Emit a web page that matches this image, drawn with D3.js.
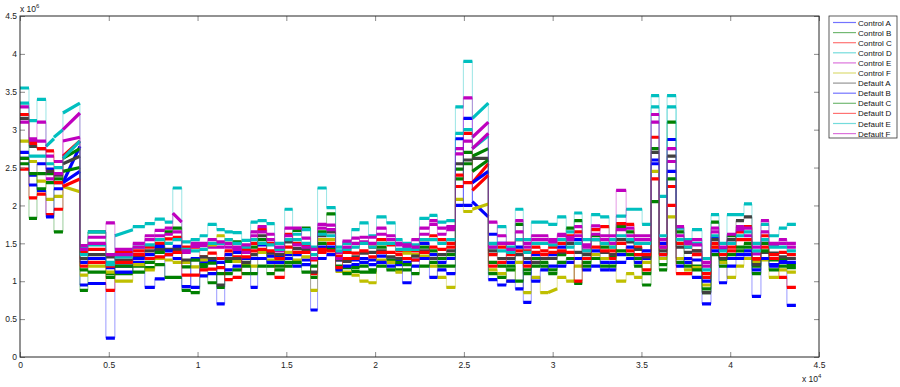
<!DOCTYPE html>
<html>
<head>
<meta charset="utf-8">
<script src="https://cdn.jsdelivr.net/npm/d3@7"></script>
<style>
  body { margin: 0; background: #fff; }
  svg { display: block; font-family: 'Liberation Sans', Arial, sans-serif; }
</style>
</head>
<body>
<svg id="chart"></svg>
<script>
// sample index where each recorded run starts / ends (x axis, raw samples)
const sampleBreaks = [0, 506, 956, 1462, 1912, 2418, 3374, 3824, 4837, 5343,
  6355, 7030, 7592, 8155, 8605, 9111, 9617, 10123, 10573, 11079,
  11529, 11979, 12485, 12991, 13385, 13891, 14341, 14904, 15354, 15860,
  16366, 16760, 17266, 17772, 18165, 18672, 19122, 19628, 20078, 20640,
  21146, 21540, 22046, 22496, 23058, 23508, 24014, 24521, 24971, 25477,
  26377, 26883, 27389, 27895, 28345, 28795, 29301, 29751, 30257, 30763,
  31213, 31663, 32169, 32675, 33182, 33575, 34138, 34588, 35038, 35544,
  35994, 36444, 36950, 37400, 37850, 38412, 38918, 39368, 39818, 40324,
  40774, 41224, 41730, 42180, 42742, 43192, 43698];

// level of each run in units of 1e6 ([start, end] when the run drifts)
const controlA = [2.62, 2.4, 2.55, 2.48, 2.3, [2.3, 2.78], 0.95, 0.97, 0.25, 1.2,
  1.25, 0.92, 1.03, 1.35, 1.46, 1.27, 0.92, 1.25, 1.26, 0.7,
  1.35, 1.38, 1.4, 0.92, 1.48, 1.33, 1.32, 1.35, 1.35, 1.28,
  0.62, 1.45, 1.45, 1.28, 1.28, 1.28, 1.25, 1.28, 1.33, 1.28,
  1.28, 1.25, 1.28, 1.5, 1.35, 1.25, 1.3, 2.0, 3.15, [2.05, 1.85],
  1.62, 1.5, 1.25, 1.45, 0.72, 1.35, 1.3, 1.35, 1.45, 1.55,
  1.55, 1.3, 1.4, 1.25, 1.15, 1.35, 1.45, 1.35, 1.3, 2.6,
  1.5, 2.87, 1.3, 1.25, 1.05, 0.7, 1.58, 1.3, 1.3, 1.35,
  1.35, 0.8, 1.5, 1.2, 1.28, 0.68];
const controlB = [2.55, 1.83, 2.42, 2.42, 1.65, [2.45, 2.5], 0.88, 1.65, 1.1, 1.1,
  1.2, 1.18, 1.22, 1.05, 1.05, 0.88, 0.85, 1.19, 1.24, 0.92,
  1.26, 1.52, 1.1, 1.45, 1.55, 1.2, 1.2, 1.2, 1.67, 1.7,
  1.05, 1.65, 1.89, 1.38, 1.18, 1.13, 1.12, 1.12, 1.45, 1.28,
  1.15, 1.15, 1.35, 1.45, 1.4, 1.3, 1.35, 2.48, 2.55, [2.65, 2.75],
  1.25, 1.2, 1.15, 1.75, 1.1, 1.3, 1.2, 1.15, 1.35, 1.7,
  1.8, 1.2, 1.6, 1.45, 1.32, 1.72, 1.65, 1.3, 0.95, 2.75,
  1.22, 3.1, 1.65, 1.3, 1.2, 0.85, 1.78, 1.28, 1.6, 1.45,
  1.5, 1.2, 1.5, 1.28, 1.3, 1.22];
const controlC = [2.48, 2.1, 2.15, 1.88, 1.95, [2.65, 2.85], 1.38, 1.42, 0.88, 1.38,
  1.4, 1.45, 1.5, 1.56, 1.58, 1.45, 1.45, 1.32, 1.37, 1.3,
  1.4, 1.32, 1.42, 1.5, 1.68, 1.5, 1.05, 1.62, 1.5, 1.48,
  1.1, 1.38, 1.5, 1.33, 1.38, 1.37, 1.5, 1.45, 1.55, 1.48,
  1.4, 1.4, 1.4, 1.55, 1.6, 1.55, 1.5, 2.25, 2.95, [2.3, 2.55],
  1.35, 1.45, 1.5, 1.55, 1.4, 1.45, 1.4, 1.45, 1.5, 1.6,
  1.65, 1.4, 1.68, 1.72, 1.4, 1.76, 1.75, 1.45, 1.15, 2.9,
  1.45, 2.25, 1.5, 1.45, 1.4, 1.05, 1.5, 1.3, 1.45, 1.65,
  1.72, 1.28, 1.6, 1.3, 1.05, 0.92];
const controlD = [3.55, 3.12, 3.4, [2.78, 2.88], [2.9, 3.0], [3.22, 3.35], 1.45, 1.65, 1.25, [1.6, 1.68],
  1.72, 1.76, 1.82, 1.78, 2.23, 1.52, 1.55, 1.6, 1.75, 1.68,
  1.65, 1.64, 1.54, 1.78, 1.8, 1.76, 1.5, 1.95, 1.62, 1.68,
  1.45, 2.23, 1.97, 1.45, 1.5, 1.68, 1.77, 1.6, 1.85, 1.77,
  1.55, 1.5, 1.48, 1.83, 1.87, 1.78, 1.8, 3.3, 3.9, [3.15, 3.35],
  1.45, 1.72, 1.45, 1.95, 1.55, 1.78, 1.78, 1.75, 1.85, 1.65,
  1.9, 1.55, 1.88, 1.85, 1.55, 1.86, 1.95, 1.95, 1.75, 3.45,
  2.12, 3.45, 1.7, 1.55, 1.68, 1.3, 1.88, 1.5, 1.88, 1.88,
  2.02, 1.5, 1.75, 1.6, 1.7, 1.75];
const controlE = [3.3, 2.85, 3.1, 2.65, 2.58, [3.0, 3.22], 1.47, 1.58, 1.77, 1.42,
  1.5, 1.6, 1.67, 1.7, [1.9, 1.78], 1.38, 1.46, 1.47, 1.45, 1.45,
  1.5, 1.45, 1.38, 1.65, 1.72, 1.62, 1.4, 1.7, 1.7, 1.57,
  1.42, 1.75, 1.74, 1.38, 1.53, 1.57, 1.52, 1.58, 1.7, 1.55,
  1.48, 1.45, 1.55, 1.62, 1.75, 1.62, 1.68, 2.75, 3.42, [2.9, 3.1],
  1.78, 1.6, 1.5, 1.8, 1.45, 1.6, 1.6, 1.55, 1.6, 1.55,
  1.72, 1.45, 1.73, 1.6, 1.6, 2.2, 1.6, 1.6, 1.6, 3.1,
  1.55, 2.58, 1.72, 1.5, 1.55, 1.2, 1.65, 1.42, 1.55, 1.72,
  1.6, 1.36, 1.8, 1.48, 1.5, 1.45];
const controlF = [2.85, 2.58, 2.32, 2.08, 2.12, [2.25, 2.18], 1.08, 1.2, 1.12, 1.0,
  1.22, 1.15, 1.3, 1.28, 1.25, 1.25, 1.19, 1.28, 1.48, 1.6,
  1.55, 1.26, 1.22, 1.2, 1.38, 1.28, 1.28, 1.38, 1.28, 1.32,
  0.88, 1.55, 1.55, 1.13, 1.12, 1.08, 1.0, 0.98, 1.28, 1.25,
  1.12, 1.37, 1.35, 1.33, 1.2, 1.05, 0.92, 2.08, 1.92, [1.95, 2.02],
  1.15, 1.1, 1.0, 1.25, 0.85, 1.05, 0.85, [0.85, 0.9], 1.05, 1.0,
  1.2, 1.3, 1.35, 1.3, 1.45, 1.0, 1.1, 1.05, 1.25, 2.45,
  1.3, 1.85, 1.3, 1.15, 1.18, 0.95, 1.45, 1.25, 1.05, 1.2,
  1.3, 1.25, 1.28, 1.05, 1.15, 1.12];
const defaultA = [3.15, 2.78, 2.75, 2.45, 2.4, [2.55, 2.65], 1.3, 1.35, 1.32, 1.28,
  1.32, 1.4, 1.42, 1.42, 1.42, 1.28, 1.28, 1.32, 1.3, 0.95,
  1.3, 1.3, 1.25, 1.35, 1.6, 1.37, 1.35, 1.52, 1.43, 1.42,
  1.12, 1.6, 1.65, 1.28, 1.26, 1.32, 1.37, 1.38, 1.4, 1.32,
  1.3, 1.3, 1.33, 1.4, 1.3, 1.35, 1.4, 2.55, 2.6, 2.62,
  1.4, 1.3, 1.3, 1.35, 1.3, 1.25, 1.3, 1.3, 1.38, 1.5,
  1.38, 1.35, 1.55, 1.38, 1.35, 1.55, 1.52, 1.42, 1.32, 2.7,
  1.4, 2.65, 1.45, 1.38, 1.4, 0.85, 1.55, 1.3, 1.55, 1.8,
  1.85, 1.22, 1.38, 1.37, 1.32, 1.3];
const defaultB = [2.7, 2.27, 2.2, 1.85, 2.22, [2.3, 2.45], 1.25, 1.3, 1.18, 1.12,
  1.3, 1.35, 1.46, 1.4, 1.3, 0.93, 1.3, 1.07, 1.1, 1.25,
  1.15, 1.2, 1.3, 1.3, 1.3, 1.25, 1.25, 1.3, 1.2, 1.22,
  1.3, 1.3, 1.35, 1.15, 1.2, 1.22, 1.3, 1.22, 1.25, 1.2,
  1.22, 0.98, 1.2, 1.3, 1.05, 1.15, 1.1, 2.88, 2.0, [2.3, 2.45],
  1.02, 0.95, 1.0, 0.9, 1.25, 1.0, 1.15, 1.2, 1.2, 1.25,
  1.3, 1.15, 1.2, 1.15, 1.25, 1.25, 1.3, 1.25, 1.4, 2.55,
  1.35, 2.45, 1.2, 1.3, 1.28, 1.0, 1.4, 0.98, 1.2, 1.3,
  1.4, 1.15, 1.3, 1.22, 1.25, 1.25];
const defaultC = [2.62, 2.42, 2.22, 2.3, 2.35, [2.62, 2.75], 1.15, 1.12, 1.05, 1.2,
  1.12, 1.25, 1.38, 1.65, 1.7, 1.19, 1.28, 1.22, 0.98, 1.1,
  1.1, 1.15, 1.2, 1.1, 1.2, 1.1, 1.15, 1.25, 1.25, 1.12,
  1.2, 1.5, 1.42, 1.2, 1.1, 1.18, 1.2, 1.15, 1.2, 1.15,
  1.25, 1.22, 1.1, 1.2, 1.25, 1.2, 1.2, 2.35, 2.7, [2.45, 2.6],
  1.1, 1.05, 1.2, 1.0, 1.15, 1.2, 1.25, 1.1, 1.25, 1.3,
  0.97, 1.25, 1.3, 1.2, 1.2, 1.4, 1.35, 1.2, 1.1, 2.05,
  1.15, 2.35, 1.25, 1.2, 1.15, 0.9, 1.35, 1.2, 1.35, 1.4,
  1.45, 1.1, 1.4, 1.15, 1.2, 1.18];
const defaultD = [3.2, 2.82, 2.75, 2.72, 2.3, [2.25, 2.35], 1.2, 1.25, 1.2, 1.25,
  1.35, 1.3, 1.32, 1.35, 1.38, 1.08, 1.08, 1.15, 1.16, 1.18,
  1.02, 1.05, 1.32, 1.4, 1.42, 1.4, 1.3, 1.45, 1.38, 1.38,
  1.28, 1.42, 1.4, 1.18, 1.3, 1.3, 1.4, 1.32, 1.38, 1.38,
  1.35, 1.3, 1.28, 1.38, 1.45, 1.42, 1.45, 2.4, 2.3, [2.2, 2.4],
  1.2, 1.25, 1.35, 1.4, 1.2, 1.38, 1.35, 1.38, 1.4, 1.38,
  1.0, 1.3, 1.45, 1.4, 1.3, 1.5, 1.4, 1.35, 1.35, 2.35,
  1.35, 2.0, 1.1, 1.1, 1.35, 1.1, 1.45, 1.35, 1.4, 1.55,
  1.55, 1.3, 1.45, 1.35, 1.38, 1.35];
const defaultE = [3.35, 2.65, 2.65, 2.55, 2.5, [2.62, 2.85], 1.35, 1.48, 1.22, 1.32,
  1.45, 1.48, 1.55, 1.5, 1.55, 1.42, 1.4, 1.42, 1.5, 1.5,
  1.55, 1.5, 1.45, 1.55, 1.5, 1.48, 1.42, 1.55, 1.55, 1.5,
  1.35, 1.62, 1.6, 1.4, 1.42, 1.45, 1.5, 1.45, 1.5, 1.5,
  1.42, 1.42, 1.42, 1.55, 1.55, 1.5, 1.55, 2.95, 3.0, [2.75, 2.92],
  1.5, 1.4, 1.38, 1.55, 1.38, 1.5, 1.5, 1.48, 1.55, 1.45,
  1.5, 1.4, 1.55, 1.5, 1.45, 1.6, 1.55, 1.5, 1.5, 3.3,
  1.6, 3.3, 1.55, 1.45, 1.5, 1.15, 1.6, 1.4, 1.5, 1.6,
  1.65, 1.4, 1.55, 1.45, 1.45, 1.4];
const defaultF = [3.1, 2.88, 2.85, 2.35, 2.42, [2.85, 2.9], 1.42, 1.5, 1.35, 1.35,
  1.45, 1.55, 1.6, 1.62, 1.65, 1.4, 1.5, 1.5, 1.55, 1.52,
  1.45, 1.42, 1.48, 1.6, 1.65, 1.55, 1.45, 1.6, 1.48, 1.45,
  1.3, 1.7, 1.68, 1.3, 1.45, 1.5, 1.58, 1.5, 1.62, 1.6,
  1.5, 1.48, 1.45, 1.7, 1.8, 1.7, 1.72, 2.68, 2.85, [2.75, 2.95],
  1.45, 1.5, 1.42, 1.65, 1.5, 1.55, 1.55, 1.52, 1.62, 1.58,
  1.6, 1.48, 1.62, 1.55, 1.5, 1.68, 1.7, 1.55, 1.55, 3.2,
  1.45, 2.75, 1.6, 1.52, 1.48, 1.25, 1.7, 1.45, 1.62, 1.68,
  1.7, 1.45, 1.65, 1.5, 1.55, 1.5];

const seriesNames = ['Control A', 'Control B', 'Control C', 'Control D', 'Control E', 'Control F',
  'Default A', 'Default B', 'Default C', 'Default D', 'Default E', 'Default F'];
const seriesValues = [controlA, controlB, controlC, controlD, controlE, controlF,
  defaultA, defaultB, defaultC, defaultD, defaultE, defaultF];

const xTicks = [0, 5000, 10000, 15000, 20000, 25000, 30000, 35000, 40000, 45000];
const xTickLabels = ['0', '0.5', '1', '1.5', '2', '2.5', '3', '3.5', '4', '4.5'];
const yTicks = [0, 0.5, 1, 1.5, 2, 2.5, 3, 3.5, 4, 4.5];
const yTickLabels = ['0', '0.5', '1', '1.5', '2', '2.5', '3', '3.5', '4', '4.5'];

class RunChart {

  constructor(_config) {
    this.config = {
      parentElement: _config.parentElement,
      containerWidth: 900,
      containerHeight: 387,
      margin: { top: 16, right: 81, bottom: 30, left: 20 },
      colors: ['#0000ff', '#008000', '#ff0000', '#00bfbf', '#bf00bf', '#bfbf00',
               '#404040', '#0000ff', '#008000', '#ff0000', '#00bfbf', '#bf00bf']
    }
    this.initVis();
  }

  initVis() {
    let vis = this;

    vis.width = vis.config.containerWidth - vis.config.margin.left - vis.config.margin.right;
    vis.height = vis.config.containerHeight - vis.config.margin.top - vis.config.margin.bottom;

    vis.xScale = d3.scaleLinear().domain([0, 45000]).range([0, vis.width]);
    vis.yScale = d3.scaleLinear().domain([0, 4.5]).range([vis.height, 0]);

    vis.svg = d3.select(vis.config.parentElement)
        .attr('width', vis.config.containerWidth)
        .attr('height', vis.config.containerHeight);

    vis.chart = vis.svg.append('g')
        .attr('transform', `translate(${vis.config.margin.left},${vis.config.margin.top})`);

    vis.chart.append('clipPath').attr('id', 'plot-clip')
      .append('rect')
        .attr('width', vis.width)
        .attr('height', vis.height);

    vis.lineG = vis.chart.append('g').attr('clip-path', 'url(#plot-clip)');
    vis.axesG = vis.chart.append('g');
    vis.legendG = vis.svg.append('g')
        .attr('transform', `translate(${vis.config.margin.left + vis.width + 10},${vis.config.margin.top})`);
  }

  updateVis() {
    let vis = this;
    // turn run levels into point lists: each run is a horizontal piece, runs joined by jumps
    vis.series = seriesValues.map((vals, s) => {
      const runs = [];
      const n = Math.min(vals.length, sampleBreaks.length - 1);
      for (let i = 0; i < n; i++) {
        const v = vals[i];
        const a = Array.isArray(v) ? v[0] : v;
        const b = Array.isArray(v) ? v[1] : v;
        runs.push([[sampleBreaks[i], a], [sampleBreaks[i + 1], b]]);
      }
      return { name: seriesNames[s], color: vis.config.colors[s], runs: runs };
    });
    vis.renderVis();
  }

  renderVis() {
    let vis = this;
    const line = d3.line()
        .x(d => vis.xScale(d[0]))
        .y(d => vis.yScale(d[1]));

    const g = vis.lineG.selectAll('.series')
        .data(vis.series)
        .join('g')
        .attr('class', 'series');

    // thin trace through the jumps
    g.append('path')
        .attr('d', d => line(d.runs.flat()))
        .attr('fill', 'none')
        .attr('stroke', d => d.color)
        .attr('stroke-width', 0.8)
        .attr('stroke-opacity', 0.5);

    // thick noisy-looking runs
    g.append('path')
        .attr('d', d => d.runs.map(r => line(r)).join(''))
        .attr('fill', 'none')
        .attr('stroke', d => d.color)
        .attr('stroke-width', 3.2);

    // axes, MATLAB style box with inward ticks
    const tickColor = '#8a8a8a';
    const styleAxis = (sel) => {
      sel.select('.domain').remove();
      sel.selectAll('.tick line').attr('stroke', tickColor);
      sel.selectAll('.tick text').attr('fill', '#222').style('font-size', '8.5px');
    };

    vis.axesG.append('g')
        .attr('transform', `translate(0,${vis.height})`)
        .call(d3.axisBottom(vis.xScale).tickValues(xTicks)
          .tickFormat((d, i) => xTickLabels[i]).tickSize(-5).tickPadding(5))
        .call(styleAxis);
    vis.axesG.append('g')
        .call(d3.axisTop(vis.xScale).tickValues(xTicks).tickFormat('').tickSize(-5))
        .call(styleAxis);
    vis.axesG.append('g')
        .call(d3.axisLeft(vis.yScale).tickValues(yTicks)
          .tickFormat((d, i) => yTickLabels[i]).tickSize(-5).tickPadding(3))
        .call(styleAxis);
    vis.axesG.append('g')
        .attr('transform', `translate(${vis.width},0)`)
        .call(d3.axisRight(vis.yScale).tickValues(yTicks).tickFormat('').tickSize(-5))
        .call(styleAxis);

    vis.axesG.append('rect')
        .attr('width', vis.width)
        .attr('height', vis.height)
        .attr('fill', 'none')
        .attr('stroke', '#262626')
        .attr('stroke-width', 1);

    // exponent labels
    const expY = vis.axesG.append('text')
        .attr('x', 0).attr('y', -4)
        .attr('fill', '#222').style('font-size', '8.5px')
        .text('x 10');
    expY.append('tspan').attr('dy', -4).style('font-size', '6px').text('6');

    const expX = vis.axesG.append('text')
        .attr('x', vis.width - 17).attr('y', vis.height + 25)
        .attr('fill', '#222').style('font-size', '8.5px')
        .text('x 10');
    expX.append('tspan').attr('dy', -4).style('font-size', '6px').text('4');

    // legend
    vis.legendG.append('rect')
        .attr('x', 0).attr('y', 0)
        .attr('width', 68).attr('height', 122)
        .attr('fill', '#fff')
        .attr('stroke', '#333')
        .attr('stroke-width', 0.8);

    const item = vis.legendG.selectAll('.legend-item')
        .data(vis.series)
        .join('g')
        .attr('class', 'legend-item')
        .attr('transform', (d, i) => `translate(0,${6.5 + i * 10.1})`);

    item.append('line')
        .attr('x1', 4).attr('x2', 27)
        .attr('stroke', d => d.color)
        .attr('stroke-opacity', 0.55)
        .attr('stroke-width', 1.2);

    item.append('text')
        .attr('x', 29).attr('y', 3)
        .attr('fill', '#111')
        .style('font-size', '8px')
        .text(d => d.name);
  }
}

const chart = new RunChart({ parentElement: '#chart' });
chart.updateVis();
</script>
</body>
</html>
